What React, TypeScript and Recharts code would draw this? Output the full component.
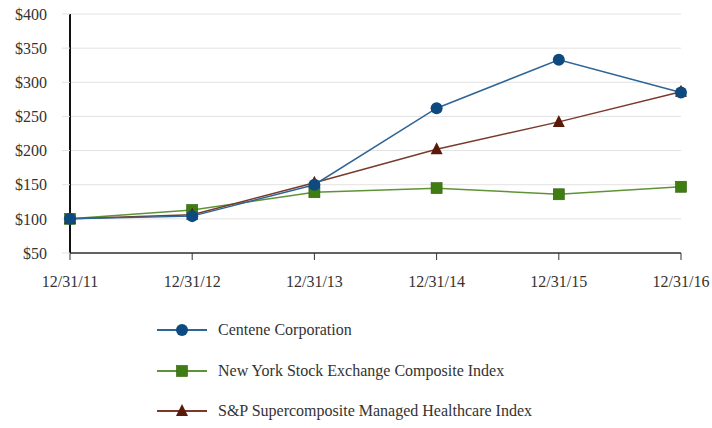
import React from "react";
import {
  LineChart,
  Line,
  XAxis,
  YAxis,
  CartesianGrid,
} from "recharts";

const dates = ["12/31/11", "12/31/12", "12/31/13", "12/31/14", "12/31/15", "12/31/16"];
const centene = [100, 104, 150, 262, 333, 285];
const nyse = [100, 113, 139, 145, 136, 147];
const managedCare = [100, 106, 153, 202, 242, 286];
const yTicks = [50, 100, 150, 200, 250, 300, 350, 400];

const seriesInfo = [
  { key: "centene", name: "Centene Corporation", line: "#2f6596", mark: "#0d4a80", shape: "circle" },
  { key: "nyse", name: "New York Stock Exchange Composite Index", line: "#5e9435", mark: "#3f7c12", shape: "square" },
  { key: "managed", name: "S&P Supercomposite Managed Healthcare Index", line: "#7a3a2a", mark: "#5a1a0a", shape: "triangle" },
];

const data = dates.map((d, i) => ({
  date: d,
  centene: centene[i],
  nyse: nyse[i],
  managed: managedCare[i],
}));

const font = '"Times New Roman", "Liberation Serif", "DejaVu Serif", serif';

function Marker({ shape, cx, cy, color }: { shape: string; cx: number; cy: number; color: string }) {
  if (shape === "circle") return <circle cx={cx} cy={cy} r={6} fill={color} />;
  if (shape === "square")
    return <rect x={cx - 5.5} y={cy - 5.5} width={11} height={11} fill={color} stroke="#2f5e0c" strokeWidth={0.6} />;
  return (
    <polygon
      points={`${cx},${cy - 7} ${cx - 6},${cy + 5} ${cx + 6},${cy + 5}`}
      fill={color}
    />
  );
}

function makeDot(shape: string, color: string) {
  return (props: any) => {
    const { cx, cy, index } = props;
    if (cx == null || cy == null) return <g key={index} />;
    return (
      <g key={`${shape}-${index}`}>
        <Marker shape={shape} cx={cx} cy={cy} color={color} />
      </g>
    );
  };
}

// legend sits below the plot, same look as the source document
function LegendBox() {
  return (
    <div
      style={{
        position: "absolute",
        left: 156,
        top: 309,
        fontFamily: font,
        fontSize: 16,
        color: "#333",
      }}
    >
      {seriesInfo.map((s, i) => (
        <div key={s.key} style={{ display: "flex", alignItems: "center", height: i === 0 ? 42 : 40 }}>
          <svg width={52} height={16} style={{ marginRight: 10 }}>
            <line x1={1} y1={8} x2={51} y2={8} stroke={s.line} strokeWidth={2} />
            <Marker shape={s.shape} cx={26} cy={8} color={s.mark} />
          </svg>
          <span>{s.name}</span>
        </div>
      ))}
    </div>
  );
}

export default function App() {
  const drawOrder = [seriesInfo[1], seriesInfo[2], seriesInfo[0]];
  return (
    <div style={{ position: "fixed", left: 0, top: 0, width: 712, height: 428, background: "#fff" }}>
      <LineChart
        width={712}
        height={428}
        data={data}
        margin={{ top: 14, right: 31, left: 0, bottom: 145 }}
      >
        <CartesianGrid vertical={false} stroke="#e2e2e2" />
        <XAxis
          dataKey="date"
          height={30}
          tick={{ fill: "#333", fontFamily: font, fontSize: 16 }}
          tickSize={7}
          tickMargin={16}
          axisLine={{ stroke: "#333", strokeWidth: 1.5 }}
          tickLine={{ stroke: "#333" }}
          interval={0}
        />
        <YAxis
          width={70}
          domain={[50, 400]}
          ticks={yTicks}
          tickFormatter={(v) => `$${v}`}
          tick={{ fill: "#333", fontFamily: font, fontSize: 16 }}
          tickSize={8}
          tickMargin={15}
          axisLine={{ stroke: "#111", strokeWidth: 2 }}
          tickLine={{ stroke: "#e2e2e2" }}
          allowDataOverflow
        />
        {drawOrder.map((s) => (
          <Line
            key={s.key}
            type="linear"
            dataKey={s.key}
            name={s.name}
            stroke={s.line}
            strokeWidth={1.5}
            dot={makeDot(s.shape, s.mark)}
            activeDot={false}
            isAnimationActive={false}
          />
        ))}
      </LineChart>
      <LegendBox />
    </div>
  );
}
